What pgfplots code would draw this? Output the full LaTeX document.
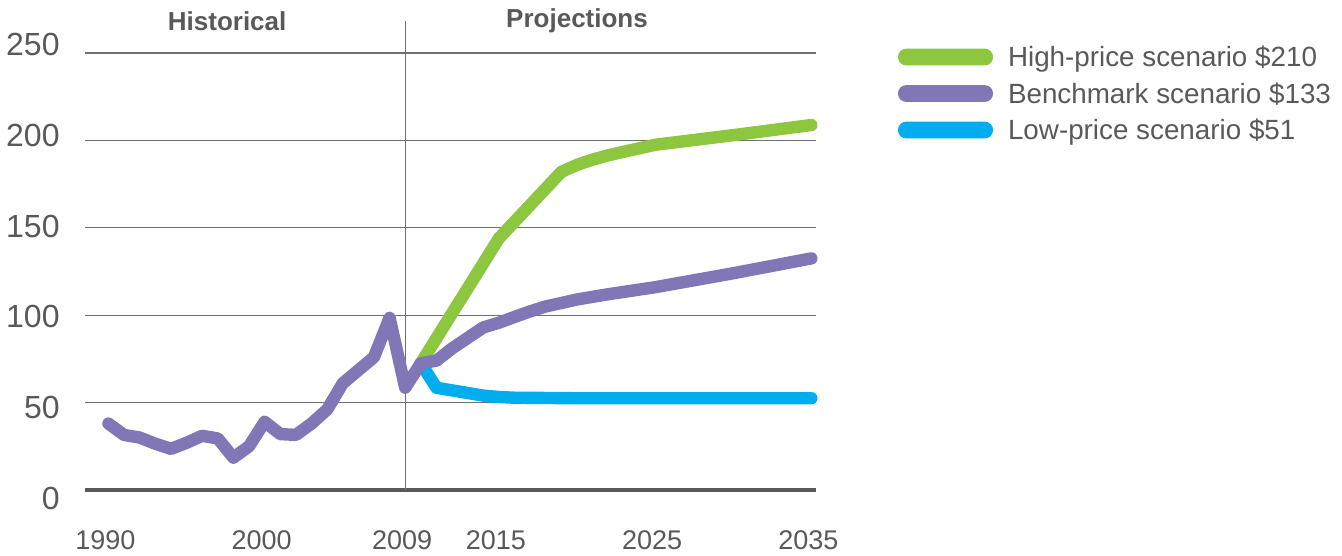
\documentclass[border=0pt]{standalone}
\usepackage{fontspec}
\setmainfont{Liberation Sans}
\usepackage{pgfplots}
\pgfplotsset{compat=1.18}
\definecolor{txtgray}{RGB}{88,89,91}
\definecolor{gridgray}{RGB}{112,113,116}
\definecolor{cgreen}{RGB}{141,198,63}
\definecolor{cpurple}{RGB}{129,119,183}
\definecolor{ccyan}{RGB}{0,174,239}
\begin{document}
\begin{tikzpicture}
\useasboundingbox (0,0) rectangle (671pt,278pt);
\begin{axis}[
  at={(42.5pt,33pt)}, anchor=south west,
  scale only axis, width=365.5pt, height=218.5pt,
  xmin=1988.5, xmax=2035.3, ymin=0, ymax=250,
  axis lines*=left,
  x axis line style={line width=2pt, draw=txtgray},
  y axis line style={draw=none},
  major tick length=0pt,
  xtick={1990,2000,2009,2015,2025,2035},
  xticklabels={1990,2000,2009,2015,2025,2035},
  ytick={0,50,100,150,200,250},
  yticklabels={0,50,100,150,200,250},
  ymajorgrids, grid style={draw=gridgray, line width=0.6pt},
  xticklabel style={font=\fontsize{13.5}{16}\selectfont, text=txtgray, anchor=center, yshift=-25pt, xshift=-1.5pt, inner sep=0pt},
  yticklabel style={font=\fontsize{16}{19}\selectfont, text=txtgray, anchor=east, inner sep=0pt, xshift=-12.5pt, yshift={(\ticknum-2.5)*1.7pt}},
  clip=false,
  legend style={draw=none, fill=none, at={(1.1122,1.0130)}, anchor=north west,
    inner sep=0pt, outer sep=0pt, row sep=8.55pt, column sep=7.5pt,
    nodes={inner sep=0pt, text height=9.7pt, text depth=0pt, font=\fontsize{13.9}{16}\selectfont, text=txtgray}},
  legend cell align=left,
  legend image code/.code={\path[draw=none, fill=none] (0pt,0pt) -- (47.5pt,0pt); \fill[#1, draw=none, overlay, rounded corners=4.1pt] (0pt,-4.2pt) rectangle (47.5pt,4.2pt);},
  every axis plot/.append style={line width=6.2pt, line join=round, line cap=round},
]
\draw[gridgray, line width=0.6pt] (axis cs:2009,0) -- (axis cs:2009,268.5);
\node[font=\bfseries\fontsize{13}{15}\selectfont, text=txtgray] at (axis cs:1997.6,268.3) {Historical};
\node[font=\bfseries\fontsize{13}{15}\selectfont, text=txtgray] at (axis cs:2020.0,268.3) {Projections};

\addlegendimage{cgreen}
\addlegendentry{High-price scenario \$210}
\addlegendimage{cpurple}
\addlegendentry{Benchmark scenario \$133}
\addlegendimage{ccyan}
\addlegendentry{Low-price scenario \$51}

% Low-price scenario
\addplot[ccyan, forget plot] coordinates {
(2010,72.5) (2011,58.5) (2012,57) (2013,55.5) (2014,54) (2015,53.2) (2016,52.8) (2020,52.5) (2025,52.5) (2030,52.5) (2035,52.5)
};
% High-price scenario
\addplot[cgreen, forget plot] coordinates {
(2010,72.5) (2015,144) (2019,182) (2020,186) (2021,189) (2022,191.5) (2023,193.5) (2025,197.5) (2030,203) (2035,208.8)
};
% Historical + benchmark scenario
\addplot[cpurple, forget plot] coordinates {
(1990,38) (1991,31.5) (1992,30) (1993,26.5) (1994,23.5) (1995,27) (1996,31) (1997,29.5) (1998,18.5) (1999,25)
(2000,39) (2001,32) (2002,31.5) (2003,38) (2004,46) (2005,61) (2006,68.5) (2007,76) (2008,98.5) (2009,58.5)
(2010,72.5) (2011,74) (2012,81) (2013,87) (2014,93) (2015,95.7) (2016,99) (2017,102.2) (2018,105) (2020,109)
(2022,112) (2025,116) (2030,124) (2035,132.5)
};
\end{axis}
\end{tikzpicture}
\end{document}
